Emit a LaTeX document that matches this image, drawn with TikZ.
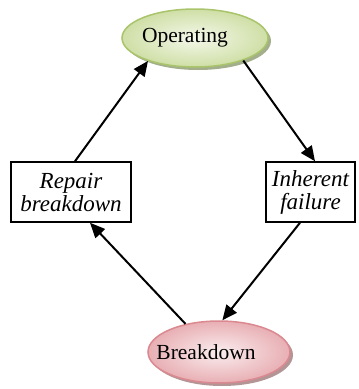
\documentclass[tikz,border=0pt]{standalone}
\usepackage{fontspec}
\setmainfont{Liberation Serif}
\usetikzlibrary{shapes.geometric,arrows.meta,shadows}
\definecolor{gfill}{HTML}{E4EDCC}
\definecolor{gfilldark}{HTML}{CFDFA6}
\definecolor{gdraw}{HTML}{A9C46A}
\definecolor{gshadow}{HTML}{8C9A70}
\definecolor{rfill}{HTML}{F3D3D6}
\definecolor{rfilldark}{HTML}{E8AFB4}
\definecolor{rdraw}{HTML}{D9898F}
\definecolor{rshadow}{HTML}{A07A7C}
\tikzset{
  state/.style={ellipse, line width=1.5pt, font=\fontsize{21.5}{23}\selectfont, inner sep=0pt},
  opstate/.style={state, draw=gdraw, inner color=white!60!gfill, outer color=gfilldark,
     drop shadow={shadow xshift=3pt, shadow yshift=-3pt, fill=gshadow, opacity=0.8}},
  brstate/.style={state, draw=rdraw, inner color=white!60!rfill, outer color=rfilldark,
     drop shadow={shadow xshift=3pt, shadow yshift=-3pt, fill=rshadow, opacity=0.8}},
  actbox/.style={rectangle, draw=black, line width=1.5pt, fill=white, align=center,
     font=\fontsize{23}{23}\selectfont\itshape, inner sep=0pt},
  flow/.style={line width=2pt, -{Triangle[length=15pt,width=13pt]}}
}
\begin{document}
\begin{tikzpicture}[x=1pt,y=-1pt]
\useasboundingbox (0,0) rectangle (359,389);
\node[opstate, minimum width=146pt, minimum height=58pt] (op) at (195,38) {\makebox[0pt]{Operating\hspace*{20pt}}};
\node[brstate, minimum width=142pt, minimum height=62pt] (br) at (219,352) {\makebox[0pt]{Breakdown\hspace*{26pt}}};
\node[actbox, minimum width=120pt, minimum height=60pt] (rep) at (71,192) {Repair\\breakdown};
\node[actbox, minimum width=89pt, minimum height=60pt] (inh) at (310.5,192) {Inherent\\failure};
\draw[flow] ([xshift=4pt]rep.north) -- (op.-154);
\draw[flow] (op.-25) -- ([xshift=4.5pt]inh.north);
\draw[flow] ([xshift=-10.5pt]inh.south) -- (br.84);
\draw[flow] (br.140) -- ([xshift=19pt]rep.south);
\end{tikzpicture}
\end{document}
